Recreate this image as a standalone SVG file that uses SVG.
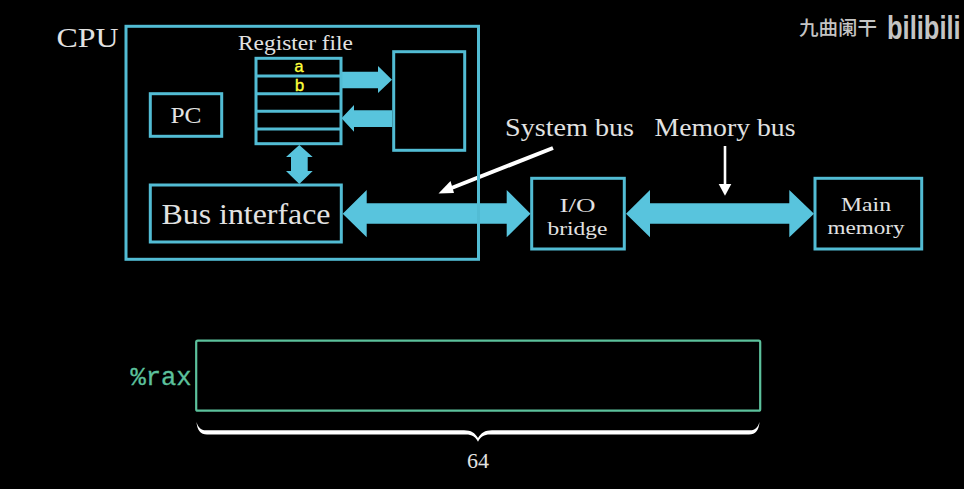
<svg xmlns="http://www.w3.org/2000/svg" width="964" height="489" viewBox="0 0 964 489">
<style>
.box{fill:none;stroke:#52bcd4;stroke-width:3}
.bus{fill:#58c4dd}
.t{font-family:"Liberation Serif","Times New Roman",serif;fill:#e2e2e2;text-anchor:middle}
.m{font-family:"Liberation Mono","Courier New",monospace}
.wire{stroke:#fff;fill:none}
</style>
<rect width="964" height="489" fill="#000"/>
<g id="connectors">
<path class="bus" d="M341 71.700H378V66L392 79.700L378 93V88.300H341Z"/>
<path class="bus" d="M392 110.300H354V105L341.500 118.300L354 131.700V127H392Z"/>
<path class="bus" d="M299.300 145L312.700 157H307.700V171H312.700L299.300 184L286 171H291V157H286Z"/>
<path class="bus" d="M342.700 213.700L366.700 190V203.300H506.700V190L530.500 213.700L506.700 237.300V223.700H366.700V237.300Z"/>
<path class="bus" d="M626 213.700L650 190V203.300H789.300V190L814 213.700L789.300 237.300V223.700H650V237.300Z"/>
<path class="wire" stroke-width="4" d="M553 148L449 189"/>
<path fill="#fff" d="M438.500 193.500L450.500 181L454 193Z"/>
<path class="wire" stroke-width="2.600" d="M725 146V186"/>
<path fill="#fff" d="M725 195.700L718.700 184H731.300Z"/>
</g>
<g id="cpu"><rect class="box" x="126" y="26.300" width="352.500" height="233"/><text class="t" x="87.500" y="47" font-size="28" textLength="62" lengthAdjust="spacingAndGlyphs">CPU</text></g>
<g id="register-file">
<rect class="box" x="256" y="58.300" width="85" height="85.400"/>
<path class="box" d="M256 76H341M256 93.700H341M256 111.300H341M256 129H341"/>
<text class="t" x="295.500" y="50" font-size="20.500" textLength="115" lengthAdjust="spacingAndGlyphs">Register file</text>
<text class="m" x="299" y="71.500" font-size="17" fill="#ffff3c" stroke="#ffff3c" stroke-width=".3" text-anchor="middle">a</text>
<text class="m" x="299.500" y="91" font-size="17" fill="#ffff3c" stroke="#ffff3c" stroke-width=".3" text-anchor="middle">b</text>
</g>
<g id="alu"><rect class="box" x="393.700" y="51.700" width="71" height="98.600"/></g>
<g id="pc"><rect class="box" x="150.300" y="93.700" width="71.400" height="42.600"/><text class="t" x="186" y="123" font-size="23" textLength="31" lengthAdjust="spacingAndGlyphs">PC</text></g>
<g id="bus-interface"><rect class="box" x="150.300" y="185" width="191" height="57"/><text class="t" x="246" y="224" font-size="30" textLength="169" lengthAdjust="spacingAndGlyphs">Bus interface</text></g>
<g id="io-bridge"><rect class="box" x="531.700" y="178.300" width="92.600" height="70.700"/><text class="t" x="577.500" y="212" font-size="19.500" textLength="36" lengthAdjust="spacingAndGlyphs">I/O</text><text class="t" x="577.500" y="234.500" font-size="19.500" textLength="60" lengthAdjust="spacingAndGlyphs">bridge</text></g>
<g id="main-memory"><rect class="box" x="815" y="178.300" width="106.700" height="70.700"/><text class="t" x="866" y="211" font-size="19.500" textLength="50" lengthAdjust="spacingAndGlyphs">Main</text><text class="t" x="866" y="234" font-size="19.500" textLength="77" lengthAdjust="spacingAndGlyphs">memory</text></g>
<g id="labels">
<text class="t" x="569.500" y="135.500" font-size="25" textLength="129" lengthAdjust="spacingAndGlyphs">System bus</text>
<text class="t" x="725" y="135.500" font-size="25" textLength="141" lengthAdjust="spacingAndGlyphs">Memory bus</text>
</g>
<g id="rax">
<rect x="196.200" y="340.700" width="564" height="70" rx="1.500" fill="none" stroke="#5cc19c" stroke-width="2.200"/>
<text class="m" x="161" y="385" font-size="25.500" fill="#5cc19c" stroke="#5cc19c" stroke-width=".3" text-anchor="middle">%rax</text>
<path fill="#fff" d="M196.500 422C198 427 200.500 430.300 206 430.300H464C471 430.300 475 433 478 438C481 433 485 430.300 492 430.300H750C755.500 430.300 758 427 759.500 422C759 430 755.500 434.500 749 434.500H490C484 434.500 480.500 436.500 478 441.700C475.500 436.500 472 434.500 466 434.500H207C200.500 434.500 197 430 196.500 422Z"/>
<text class="t" x="478" y="468" font-size="22" textLength="22" lengthAdjust="spacingAndGlyphs">64</text>
</g>
<g id="watermark" fill="#c4c4c4">
<text x="799" y="35" font-size="19.500" font-weight="500" font-family="'Noto Sans CJK SC',sans-serif" textLength="78">九曲阑干</text>
<text transform="translate(887 39) scale(.75 1)" font-size="34" font-weight="700" font-family="'Liberation Sans',sans-serif">bilibili</text>
</g>
</svg>
